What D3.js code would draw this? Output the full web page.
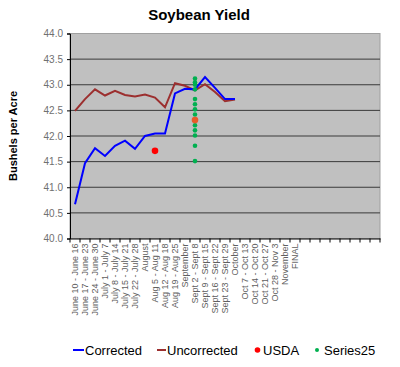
<!DOCTYPE html>
<html><head><meta charset="utf-8">
<script src="https://cdn.jsdelivr.net/npm/d3@7"></script>
<style>body{margin:0;background:#fff}svg{display:block;font-family:Arial,"Liberation Sans",sans-serif}</style>
</head><body><svg id="c" width="400" height="367"></svg>
<script>
const categories = ["June 10 - June 16","June 17 - June 23","June 24 - June 30","July 1 - July 7","July 8 - July 14","July 15 - July 21","July 22 - July 28","August","Aug 5 - Aug 11","Aug 12 - Aug 18","Aug 19 - Aug 25","September","Sept 2 - Sept 8","Sept 9 - Sept 15","Sept 16 - Sept 22","Sept 23 - Sept 29","October","Oct 7 - Oct 13","Oct 14 - Oct 20","Oct 21 - Oct 27","Oct 28 - Nov 3","November","FINAL","","","","","","","",""];
const corrected = [40.67,41.47,41.76,41.61,41.81,41.91,41.75,42.0,42.05,42.05,42.83,42.92,42.91,43.15,42.94,42.72,42.72];
const uncorrected = [42.49,42.72,42.91,42.79,42.88,42.80,42.77,42.81,42.75,42.56,43.03,42.98,42.89,43.01,42.86,42.68,42.71];
const usdaCats = ["Aug 5 - Aug 11","Sept 2 - Sept 8"];
const usdaVals = [41.71,42.31];
const series25Cat = "Sept 2 - Sept 8";
const series25Vals = [43.12,43.05,43.0,42.91,42.72,42.62,42.52,42.42,42.31,42.21,42.11,42.01,41.81,41.51];
const yTicks = [40.0,40.5,41.0,41.5,42.0,42.5,43.0,43.5,44.0];

const svg = d3.select("#c");
const L=70,R=380,T=33.5,B=238.5;
const x = d3.scaleBand().domain(categories.map((d,i)=>i)).range([L,R]);
const y = d3.scaleLinear().domain([40,44]).range([B,T]);
const cx = i => x(i)+x.bandwidth()/2;

svg.append("text").attr("x",199).attr("y",20).attr("text-anchor","middle")
  .attr("font-size",15).attr("font-weight","bold").text("Soybean Yield");

svg.append("rect").attr("x",L).attr("y",T).attr("width",R-L).attr("height",B-T)
  .attr("fill","#c0c0c0").attr("stroke","#a0a0a0");

svg.append("g").selectAll("line").data(yTicks.slice(1,-1)).join("line")
  .attr("x1",L).attr("x2",R).attr("y1",d=>y(d)).attr("y2",d=>y(d))
  .attr("stroke","#3a3a3a").attr("stroke-width",1);

const ya = svg.append("g").attr("transform",`translate(${L},0)`)
  .call(d3.axisLeft(y).tickValues(yTicks).tickFormat(d3.format(".1f")).tickSize(3).tickPadding(4));
ya.select(".domain").attr("stroke","#000");
ya.selectAll(".tick line").attr("stroke","#000");
ya.selectAll("text").attr("font-size",10).attr("fill","#707070").attr("font-family","Arial");

const xa = svg.append("g").attr("transform",`translate(0,${B})`)
  .call(d3.axisBottom(x).tickSize(0).tickFormat(i=>categories[i]));
xa.select(".domain").attr("stroke","#000");
xa.selectAll(".tick text").attr("font-size",9).attr("fill","#606060").attr("font-family","Arial")
  .attr("text-anchor","end").attr("transform","rotate(-90)").attr("x",-5).attr("y",0).attr("dy","0.35em");
svg.append("g").selectAll("line").data(d3.range(categories.length+1)).join("line")
  .attr("x1",i=>L+i*x.bandwidth()).attr("x2",i=>L+i*x.bandwidth())
  .attr("y1",B).attr("y2",B+4).attr("stroke","#000");

svg.append("text").attr("transform","translate(17,136) rotate(-90)").attr("text-anchor","middle")
  .attr("font-size",11).attr("font-weight","bold").text("Bushels per Acre");

const line = d3.line().x((d,i)=>cx(i)).y(d=>y(d));
svg.append("path").datum(uncorrected).attr("d",line).attr("fill","none").attr("stroke","#9c2f2f").attr("stroke-width",2);
svg.append("path").datum(corrected).attr("d",line).attr("fill","none").attr("stroke","#0000ff").attr("stroke-width",2);

const gi = categories.indexOf(series25Cat);
svg.append("g").selectAll("circle").data(series25Vals).join("circle")
  .attr("cx",cx(gi)).attr("cy",d=>y(d)).attr("r",2.3).attr("fill","#00b050");
svg.append("g").selectAll("circle").data(usdaVals).join("circle")
  .attr("cx",(d,i)=>cx(categories.indexOf(usdaCats[i]))).attr("cy",d=>y(d)).attr("r",3.3)
  .attr("fill",(d,i)=>i===1?"#e85c2a":"#ff0000");

const lg = svg.append("g").attr("font-size",13);
const ly = 351;
lg.append("line").attr("x1",73).attr("x2",84).attr("y1",ly-1).attr("y2",ly-1).attr("stroke","#0000ff").attr("stroke-width",2);
lg.append("text").attr("x",85).attr("y",ly+4).text("Corrected");
lg.append("line").attr("x1",157).attr("x2",166).attr("y1",ly-1).attr("y2",ly-1).attr("stroke","#9c2f2f").attr("stroke-width",2);
lg.append("text").attr("x",167).attr("y",ly+4).text("Uncorrected");
lg.append("circle").attr("cx",257.5).attr("cy",ly-1).attr("r",2.8).attr("fill","#ff0000");
lg.append("text").attr("x",263).attr("y",ly+4).text("USDA");
lg.append("circle").attr("cx",317).attr("cy",ly-1).attr("r",2).attr("fill","#00b050");
lg.append("text").attr("x",324).attr("y",ly+4).text("Series25");
</script></body></html>
